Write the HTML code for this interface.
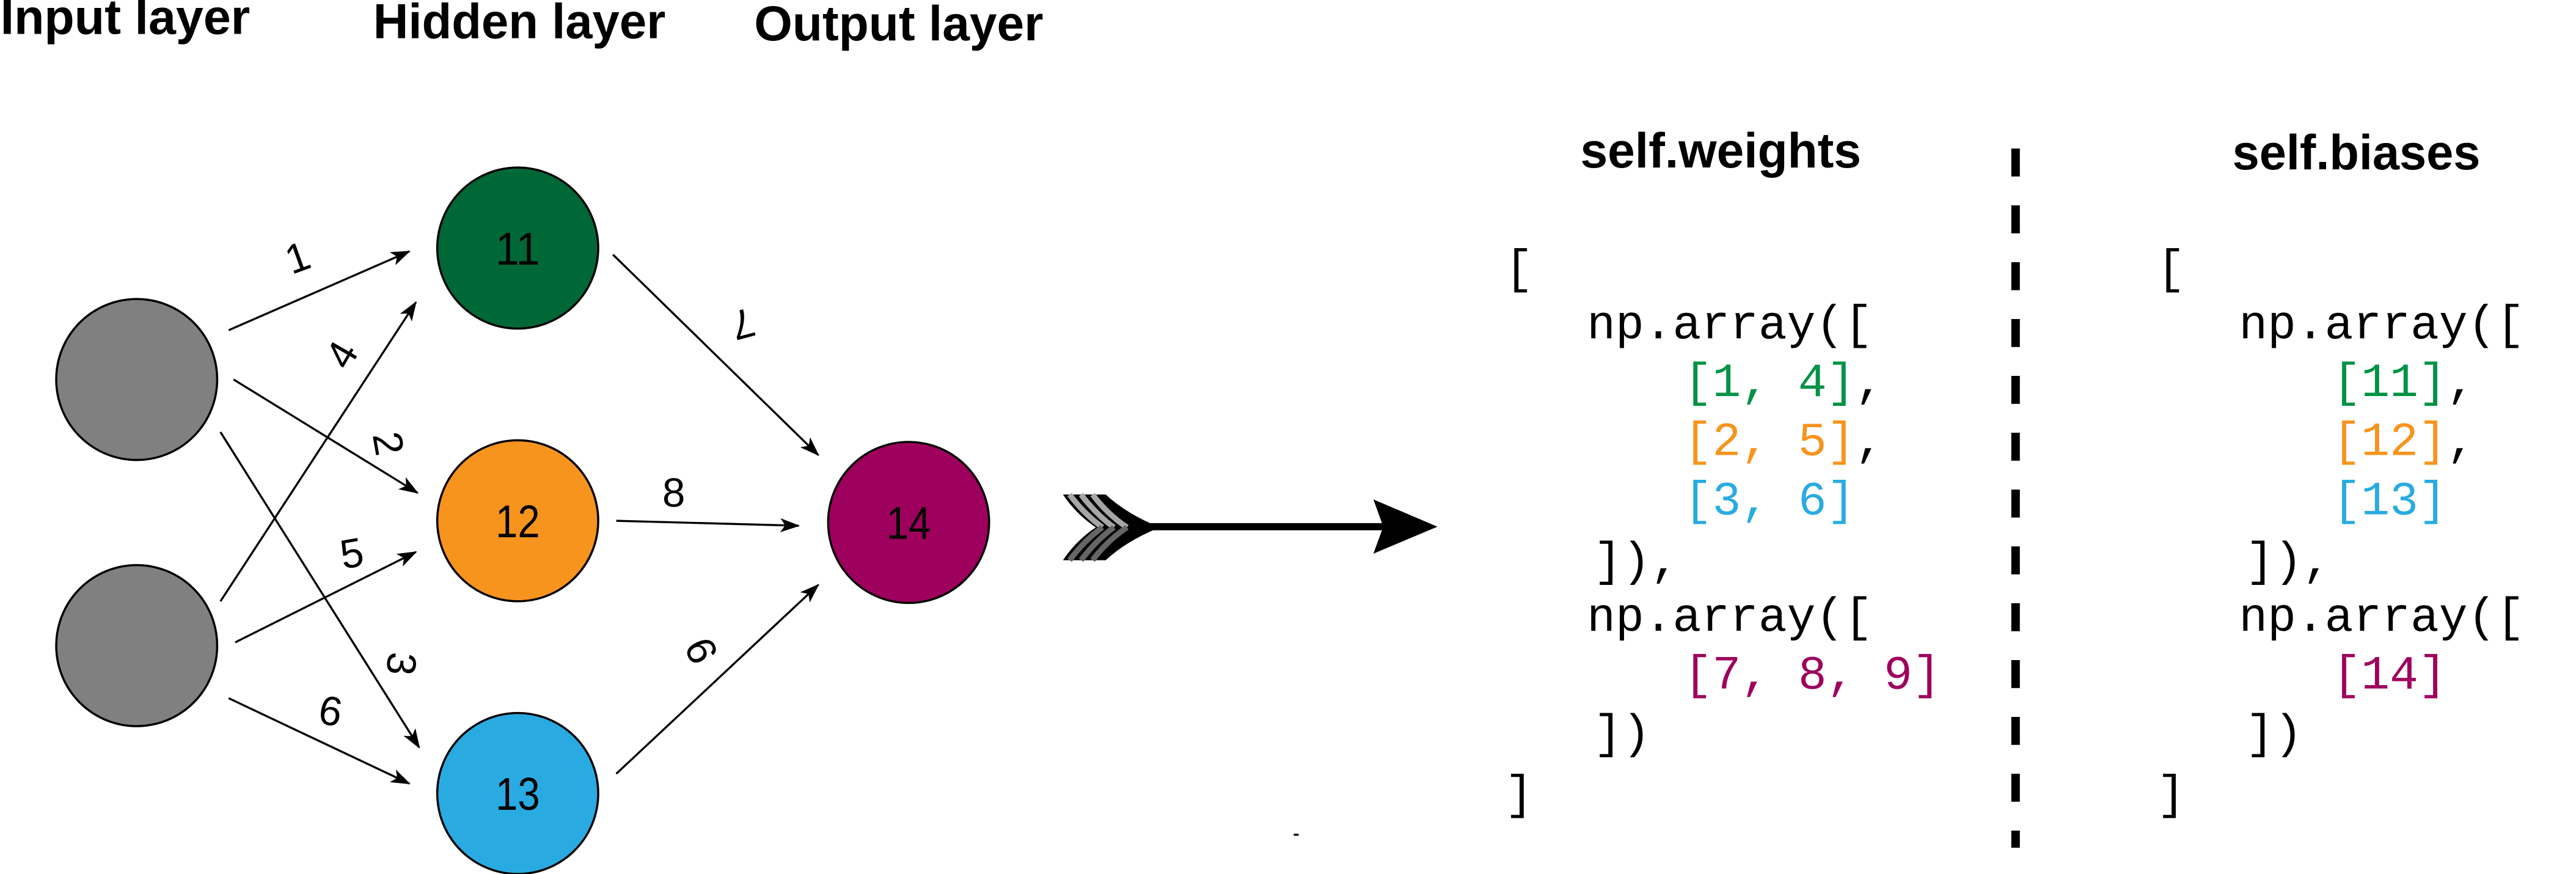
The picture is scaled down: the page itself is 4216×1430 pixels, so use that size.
<!DOCTYPE html>
<html><head><meta charset="utf-8"><style>html,body{margin:0;padding:0;background:#fff}svg{display:block}</style></head>
<body>
<svg width="4216" height="1430" viewBox="0 0 1568 532" xmlns="http://www.w3.org/2000/svg">
<defs>
<marker id="ah" viewBox="0 0 14 10" refX="13" refY="5" markerWidth="12" markerHeight="9" markerUnits="userSpaceOnUse" orient="auto">
<path d="M0,0 L14,5 L0,10 L3.5,5 Z" fill="#000"/>
</marker>
</defs>
<rect width="1568" height="532" fill="#fff"/>
<g font-family="Liberation Sans, Arial, sans-serif" font-weight="bold" font-size="30">
<text x="0" y="20.6" textLength="152" lengthAdjust="spacingAndGlyphs">Input layer</text>
<text x="227" y="23.3" textLength="178" lengthAdjust="spacingAndGlyphs">Hidden layer</text>
<text x="459" y="24.6" textLength="176" lengthAdjust="spacingAndGlyphs">Output layer</text>
</g>
<g stroke="#000" stroke-width="1.3">
<circle cx="83" cy="231" r="49" fill="#808080"/>
<circle cx="83" cy="393" r="49" fill="#808080"/>
<circle cx="315" cy="151" r="49" fill="#006837"/>
<circle cx="315" cy="317" r="49" fill="#F7941D"/>
<circle cx="315" cy="483" r="49" fill="#29ABE2"/>
<circle cx="553" cy="318" r="49" fill="#9E005D"/>
</g>
<g font-family="Liberation Sans, Arial, sans-serif" font-size="28" text-anchor="middle">
<text x="315" y="161" textLength="27" lengthAdjust="spacingAndGlyphs">11</text>
<text x="315" y="327" textLength="27" lengthAdjust="spacingAndGlyphs">12</text>
<text x="315" y="493" textLength="27" lengthAdjust="spacingAndGlyphs">13</text>
<text x="553" y="328" textLength="27" lengthAdjust="spacingAndGlyphs">14</text>
</g>
<g stroke="#000" stroke-width="1.25" marker-end="url(#ah)">
<line x1="139" y1="201" x2="249" y2="153"/>
<line x1="142" y1="231" x2="254" y2="300"/>
<line x1="134" y1="263" x2="255" y2="455"/>
<line x1="134" y1="366" x2="253" y2="184"/>
<line x1="143" y1="391" x2="253" y2="336"/>
<line x1="139" y1="425" x2="249" y2="477"/>
<line x1="373" y1="155" x2="498" y2="277"/>
<line x1="375" y1="317" x2="486" y2="320"/>
<line x1="375" y1="471" x2="498" y2="356"/>
</g>
<g font-family="Liberation Sans, Arial, sans-serif" font-size="25" text-anchor="middle" dominant-baseline="central">
<text transform="translate(181,157) rotate(-20)">1</text>
<text transform="translate(208,216) rotate(-60)">4</text>
<text transform="translate(236,270) rotate(80)">2</text>
<text transform="translate(244,404) rotate(95)">3</text>
<text transform="translate(214,337) rotate(-10)">5</text>
<text transform="translate(201,433) rotate(10)">6</text>
<text transform="translate(452,197) rotate(165)">7</text>
<text transform="translate(410,300)">8</text>
<text transform="translate(427,396) rotate(-115)">9</text>
</g>
<g>
<path d="M647,301 L673,301 Q686,313 706,321 Q686,329 673,341 L647,341 Q655,329 667,321 Q655,313 647,301 Z" fill="#000"/>
<g stroke-width="3.4" fill="none">
<path d="M651,301 Q660,313 671,321" stroke="#a6a6a6"/>
<path d="M658,301 Q667,313 678,321" stroke="#a6a6a6"/>
<path d="M665,301 Q674,313 686,321" stroke="#a6a6a6"/>
<path d="M651,341 Q660,329 671,321" stroke="#666"/>
<path d="M658,341 Q667,329 678,321" stroke="#666"/>
<path d="M665,341 Q674,329 686,321" stroke="#666"/>
</g>
<line x1="700" y1="320.6" x2="845" y2="320.6" stroke="#000" stroke-width="4.4"/>
<path d="M836,304 L875,320.6 L836,337 L842,320.6 Z" fill="#000"/>
</g>
<rect x="787.5" y="507.5" width="3" height="1.2" fill="#000"/>
<g font-family="Liberation Sans, Arial, sans-serif" font-weight="bold" font-size="30">
<text x="962" y="102" textLength="171" lengthAdjust="spacingAndGlyphs">self.weights</text>
<text x="1359" y="103" textLength="151" lengthAdjust="spacingAndGlyphs">self.biases</text>
</g>
<line x1="1227" y1="90.4" x2="1227" y2="516" stroke="#000" stroke-width="5.2" stroke-dasharray="17 17.6"/>
<g font-family="Liberation Mono, Courier New, monospace" font-size="29" xml:space="preserve">
<text x="916" y="172">[</text>
<text x="966" y="206">np.array([</text>
<text x="1025" y="241"><tspan fill="#009245">[1, 4]</tspan>,</text>
<text x="1025" y="277"><tspan fill="#F7941D">[2, 5]</tspan>,</text>
<text x="1025" y="313" fill="#29ABE2">[3, 6]</text>
<text x="970" y="350">]),</text>
<text x="966" y="384">np.array([</text>
<text x="1025" y="419" fill="#9E005D">[7, 8, 9]</text>
<text x="970" y="455">])</text>
<text x="916" y="492">]</text>

<text x="1313" y="172">[</text>
<text x="1363" y="206">np.array([</text>
<text x="1420" y="241"><tspan fill="#009245">[11]</tspan>,</text>
<text x="1420" y="277"><tspan fill="#F7941D">[12]</tspan>,</text>
<text x="1420" y="313" fill="#29ABE2">[13]</text>
<text x="1367" y="350">]),</text>
<text x="1363" y="384">np.array([</text>
<text x="1420" y="419" fill="#9E005D">[14]</text>
<text x="1367" y="455">])</text>
<text x="1313" y="492">]</text>
</g>
</svg>
</body></html>
